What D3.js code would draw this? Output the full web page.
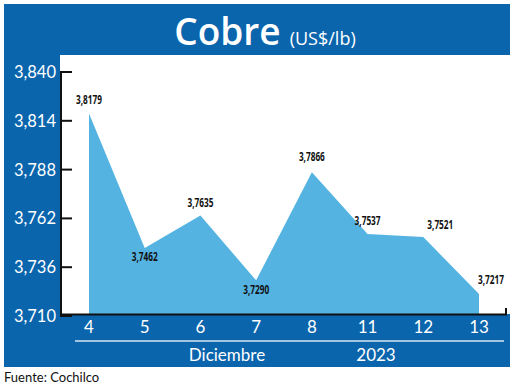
<!DOCTYPE html>
<html>
<head>
<meta charset="utf-8">
<script src="https://cdn.jsdelivr.net/npm/d3@7"></script>
<style>
  body { margin: 0; background: #fff; }
  svg { display: block; }
  .tickLabel { fill: #fff; font-family: Lato, "Open Sans", sans-serif; font-size: 16.5px; }
  .dayLabel { fill: #fff; font-family: Lato, "Open Sans", sans-serif; font-size: 17px; }
  .valueLabel { fill: #111; font-family: "Open Sans", sans-serif; font-size: 12.5px; font-weight: 700; }
</style>
</head>
<body>
<div id="chart"></div>
<script>
const days = ['4', '5', '6', '7', '8', '11', '12', '13'];
const prices = [3.8179, 3.7462, 3.7635, 3.7290, 3.7866, 3.7537, 3.7521, 3.7217];
const priceLabels = ['3,8179', '3,7462', '3,7635', '3,7290', '3,7866', '3,7537', '3,7521', '3,7217'];
const yTicks = [3.710, 3.736, 3.762, 3.788, 3.814, 3.840];

const width = 520, height = 389;
const blue = '#0b65ad';
const fillBlue = '#55b3e2';

const svg = d3.select('#chart').append('svg')
  .attr('width', width)
  .attr('height', height);

// frame
svg.append('rect').attr('x', 4).attr('y', 4).attr('width', 506).attr('height', 363).attr('fill', blue);
svg.append('rect').attr('x', 60).attr('y', 55).attr('width', 450).attr('height', 259).attr('fill', '#fff');

const x = d3.scalePoint().domain(days).range([89, 479]);
const y = d3.scaleLinear().domain([3.710, 3.840]).range([316, 72]);

// area
const area = d3.area()
  .x((d, i) => x(days[i]))
  .y0(314)
  .y1(d => y(d));
svg.append('path')
  .datum(prices)
  .attr('d', area)
  .attr('fill', fillBlue);

// y axis
svg.append('line').attr('x1', 61).attr('x2', 61).attr('y1', 71).attr('y2', 316)
  .attr('stroke', '#111').attr('stroke-width', 2);
svg.selectAll('.yTick').data(yTicks).enter().append('line')
  .attr('class', 'yTick')
  .attr('x1', 60).attr('x2', 72)
  .attr('y1', d => y(d)).attr('y2', d => y(d))
  .attr('stroke', '#111').attr('stroke-width', 2);
svg.selectAll('.tickLabel').data(yTicks).enter().append('text')
  .attr('class', 'tickLabel')
  .attr('x', 56)
  .attr('y', d => y(d) + 6)
  .attr('text-anchor', 'end')
  .text(d => d3.format('.3f')(d).replace('.', ','));

// x axis baseline
svg.append('line').attr('x1', 61).attr('x2', 507).attr('y1', 314.5).attr('y2', 314.5)
  .attr('stroke', '#111').attr('stroke-width', 2);
svg.append('line').attr('x1', 506).attr('x2', 506).attr('y1', 308).attr('y2', 315)
  .attr('stroke', '#111').attr('stroke-width', 2);

svg.selectAll('.dayLabel').data(days).enter().append('text')
  .attr('class', 'dayLabel')
  .attr('x', d => x(d))
  .attr('y', 333)
  .attr('text-anchor', 'middle')
  .text(d => d);

svg.append('line').attr('x1', 75).attr('x2', 504).attr('y1', 341).attr('y2', 341)
  .attr('stroke', '#d6e6f4').attr('stroke-width', 1.5);
svg.append('text').attr('class', 'dayLabel').attr('x', 227).attr('y', 361)
  .attr('text-anchor', 'middle').attr('font-size', 18).text('Diciembre');
svg.append('text').attr('class', 'dayLabel').attr('x', 376).attr('y', 361)
  .attr('text-anchor', 'middle').attr('font-size', 18).text('2023');

// value labels (condensed by horizontal scaling)
const labelOffsets = [
  { dx: 0, dy: -9 }, { dx: 0, dy: 13 }, { dx: 0, dy: -9 }, { dx: 0, dy: 14 },
  { dx: 0, dy: -11 }, { dx: 0, dy: -9 }, { dx: 17, dy: -8 }, { dx: 12, dy: -10 }
];
svg.selectAll('.valueLabel').data(prices).enter().append('text')
  .attr('class', 'valueLabel')
  .attr('transform', (d, i) => `translate(${x(days[i]) + labelOffsets[i].dx},${y(d) + labelOffsets[i].dy}) scale(0.66,1)`)
  .attr('text-anchor', 'middle')
  .text((d, i) => priceLabels[i]);

// title
const title = svg.append('text')
  .attr('x', 265).attr('y', 45)
  .attr('text-anchor', 'middle')
  .attr('fill', '#fff')
  .attr('font-family', '"Open Sans", Lato, sans-serif');
title.append('tspan').attr('font-size', 37).attr('font-weight', 600).text('Cobre');
title.append('tspan').attr('font-size', 18).attr('dx', 9).text('(US$/lb)');

// source
svg.append('text').attr('x', 4).attr('y', 382)
  .attr('font-family', 'Lato, "Open Sans", sans-serif').attr('font-size', 13)
  .attr('fill', '#111').text('Fuente: Cochilco');
</script>
</body>
</html>
